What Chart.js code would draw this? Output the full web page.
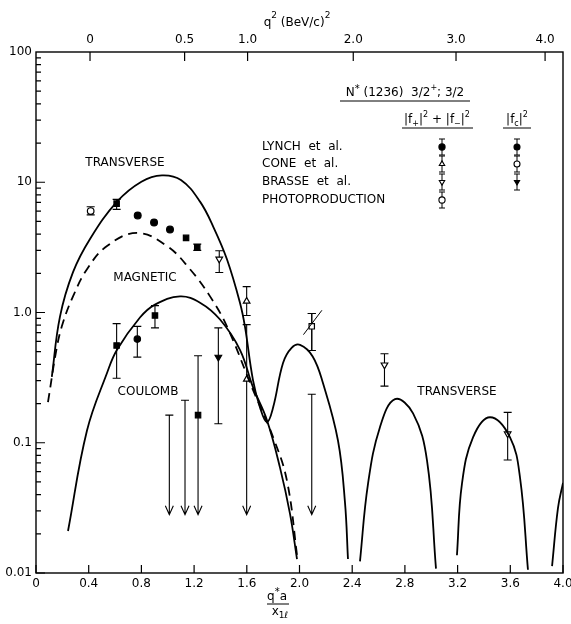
<!DOCTYPE html>
<html><head><meta charset="utf-8">
<script src="https://cdn.jsdelivr.net/npm/chart.js@4.4.0/dist/chart.umd.min.js"></script>
<style>html,body{margin:0;padding:0;background:#fff;} canvas{display:block}</style>
</head><body>
<canvas id="c" width="571" height="624"></canvas>
<script>
// ---------- axis data ----------
const xTickValues = [0,0.4,0.8,1.2,1.6,2.0,2.4,2.8,3.2,3.6,4.0];
const xTickLabels = ['0','0.4','0.8','1.2','1.6','2.0','2.4','2.8','3.2','3.6','4.0'];
const yTickValues = [0.01,0.1,1,10,100];
const yTickLabels = ['0.01','0.1','1.0','10','100'];
const q2TickPositions = [0.41,1.128,1.606,2.408,3.188,3.864];
const q2TickLabels = ['0','0.5','1.0','2.0','3.0','4.0'];

// ---------- theory curves [x, y] ----------
const transverseMain = [[0.12,0.32],[0.182,0.93],[0.281,2.04],[0.41,3.67],[0.615,7.1],[0.80,10.1],[0.956,11.3],[1.10,10.4],[1.245,7.1],[1.35,4.45],[1.45,2.55],[1.548,1.19],[1.586,0.78],[1.647,0.303],[1.70,0.187],[1.753,0.144],[1.80,0.187],[1.875,0.41],[1.94,0.536],[2.004,0.565],[2.10,0.46],[2.178,0.287],[2.292,0.104],[2.345,0.035],[2.368,0.0128]];
const transverseLobe2 = [[2.459,0.0123],[2.52,0.0484],[2.61,0.131],[2.725,0.216],[2.862,0.168],[2.968,0.073],[3.036,0.0108]];
const transverseLobe3 = [[3.195,0.0137],[3.233,0.0484],[3.317,0.11],[3.446,0.157],[3.598,0.11],[3.674,0.0538],[3.734,0.0106]];
const transverseLobe4 = [[3.917,0.0113],[3.962,0.0316],[4.0,0.0492]];
const magneticCurve = [[0.091,0.205],[0.159,0.546],[0.205,0.837],[0.281,1.33],[0.387,2.15],[0.539,3.24],[0.767,4.08],[0.994,3.24],[1.169,2.15],[1.321,1.33],[1.45,0.78],[1.647,0.254],[1.80,0.11],[1.905,0.051],[1.985,0.0128]];
const coulombCurve = [[0.243,0.021],[0.387,0.124],[0.539,0.343],[0.615,0.517],[0.789,0.915],[0.903,1.15],[1.093,1.33],[1.245,1.19],[1.397,0.883],[1.548,0.517],[1.647,0.267],[1.753,0.149],[1.852,0.0644],[1.928,0.0284],[1.981,0.0128]];

// ---------- measurements [x, y, low, high] ----------
const photoOpenCircle = [[0.415,6.01,5.62,6.49]];
const filledSquaresT = [[0.612,6.85,6.19,7.39],[1.139,3.74,null,null],[1.224,3.17,3.0,3.35]];
const lynchCirclesT = [[0.772,5.56,null,null],[0.896,4.91,null,null],[1.017,4.33,null,null]];
const brasseOpenDownT = [[1.391,2.57,2.03,2.98],[2.645,0.396,0.272,0.482],[3.58,0.117,0.0738,0.171]];
const coneOpenUpT = [[1.599,1.22,0.948,1.58]];
const coneBoxT = [[2.093,0.783,0.511,0.982]];
const coneSlantBar = [[2.03,0.676],[2.17,1.04]];
const filledSquaresC = [[0.612,0.558,0.313,0.822],[0.903,0.948,0.762,1.13],[1.23,0.163,null,null]];
const lynchCirclesC = [[0.769,0.625,0.454,0.783]];
const brasseFilledDownC = [[1.384,0.454,0.14,0.762]];
const coneOpenUpC = [[1.599,0.307,null,null]];
const coulombUpperLimits = [[1.012,0.163],[1.131,0.212],[1.23,0.465],[1.599,0.807],[2.093,0.236]];
const arrowTip = 0.028;

const FONT = "'DejaVu Sans', sans-serif";
const toXY = a => a.map(p => ({x:p[0], y:p[1]}));
const toPts = a => a.map(p => ({x:p[0], y:p[1], lo:p[2], hi:p[3]}));

function curveDs(data, dashed){
  return {data: toXY(data), borderColor:'#000', borderWidth:1.8, pointRadius:0,
    borderDash: dashed ? [9,6] : [], tension:0.4, fill:false, showLine:true};
}
function ptDs(data, style, filled, rot, r){
  return {data: toPts(data), showLine:false, pointStyle:style, pointRadius:r, pointRotation:rot||0,
    pointBackgroundColor: filled ? '#000' : '#fff', pointBorderColor:'#000', pointBorderWidth:1.2,
    errorBars:true};
}

const datasets = [
  curveDs(transverseMain,false), curveDs(transverseLobe2,false), curveDs(transverseLobe3,false),
  curveDs(transverseLobe4,false), curveDs(magneticCurve,true), curveDs(coulombCurve,false),
  {data: toXY(coneSlantBar), borderColor:'#000', borderWidth:1, pointRadius:0, showLine:true},
  ptDs(photoOpenCircle,'circle',false,0,3.3),
  ptDs(filledSquaresT,'rect',true,0,3.8),
  ptDs(lynchCirclesT,'circle',true,0,3.4),
  ptDs(brasseOpenDownT,'triangle',false,180,3.8),
  ptDs(coneOpenUpT,'triangle',false,0,3.8),
  ptDs(coneBoxT,'rect',false,0,3.8),
  ptDs(coneBoxT,'crossRot',false,0,3.0),
  ptDs(filledSquaresC,'rect',true,0,3.8),
  ptDs(lynchCirclesC,'circle',true,0,3.2),
  ptDs(brasseFilledDownC,'triangle',true,180,3.8),
  ptDs(coneOpenUpC,'triangle',false,0,3.6)
];

function rich(ctx, parts, x, y, align){
  let w = 0;
  parts.forEach(p => { ctx.font = p[1]+'px '+FONT; w += ctx.measureText(p[0]).width; });
  let cx = align === 'center' ? x - w/2 : x;
  parts.forEach(p => { ctx.font = p[1]+'px '+FONT; ctx.fillText(p[0], cx, y + p[2]); cx += ctx.measureText(p[0]).width; });
  return w;
}
function sym(ctx, type, filled, x, y, r){
  ctx.beginPath();
  if (type === 'circle') ctx.arc(x, y, r, 0, Math.PI*2);
  else if (type === 'up'){ ctx.moveTo(x, y-r); ctx.lineTo(x+r*0.87, y+r*0.5); ctx.lineTo(x-r*0.87, y+r*0.5); ctx.closePath(); }
  else if (type === 'down'){ ctx.moveTo(x, y+r); ctx.lineTo(x+r*0.87, y-r*0.5); ctx.lineTo(x-r*0.87, y-r*0.5); ctx.closePath(); }
  ctx.fillStyle = filled ? '#000' : '#fff';
  ctx.fill(); ctx.lineWidth = 1.1; ctx.strokeStyle = '#000'; ctx.stroke();
}
function vbar(ctx, x, y1, y2, cap){
  ctx.beginPath();
  ctx.moveTo(x, y1); ctx.lineTo(x, y2);
  ctx.moveTo(x-cap, y1); ctx.lineTo(x+cap, y1);
  ctx.moveTo(x-cap, y2); ctx.lineTo(x+cap, y2);
  ctx.stroke();
}

const deco = {
  id:'deco',
  beforeDatasetsDraw(chart){
    const c = chart.ctx, xs = chart.scales.x, ys = chart.scales.y;
    c.save(); c.strokeStyle = '#000'; c.lineWidth = 1.1;
    chart.data.datasets.forEach(ds => {
      if (!ds.errorBars) return;
      ds.data.forEach(p => {
        if (p.lo == null || p.hi == null) return;
        vbar(c, xs.getPixelForValue(p.x), ys.getPixelForValue(p.lo), ys.getPixelForValue(p.hi), 4);
      });
    });
    coulombUpperLimits.forEach(p => {
      const px = xs.getPixelForValue(p[0]), pt = ys.getPixelForValue(p[1]), pb = ys.getPixelForValue(arrowTip);
      c.beginPath();
      c.moveTo(px-4, pt); c.lineTo(px+4, pt);
      c.moveTo(px, pt); c.lineTo(px, pb);
      c.moveTo(px-4, pb-9); c.lineTo(px, pb); c.lineTo(px+4, pb-9);
      c.stroke();
    });
    c.restore();
  },
  afterDraw(chart){
    const c = chart.ctx, a = chart.chartArea, xs = chart.scales.x, ys = chart.scales.y;
    c.save();
    c.strokeStyle = '#000'; c.fillStyle = '#000';
    c.lineWidth = 1.4;
    c.strokeRect(a.left, a.top, a.right - a.left, a.bottom - a.top);
    c.lineWidth = 1.2;
    c.beginPath();
    xTickValues.forEach(v => { const px = xs.getPixelForValue(v); c.moveTo(px, a.bottom); c.lineTo(px, a.bottom - 8); });
    q2TickPositions.forEach(v => { const px = xs.getPixelForValue(v); c.moveTo(px, a.top); c.lineTo(px, a.top + 9); });
    for (let d = -2; d <= 1; d++){
      for (let m = 1; m <= 9; m++){
        const py = ys.getPixelForValue(m * Math.pow(10, d));
        c.moveTo(a.left, py); c.lineTo(a.left + (m === 1 ? 9 : 5), py);
      }
    }
    c.stroke();

    // axis titles
    c.textBaseline = 'alphabetic';
    rich(c, [['q',12,0],['2',9,-8],[' (BeV/c)',12,0],['2',9,-8]], 297, 26, 'center');
    rich(c, [['q',12,0],['*',10,-5],['a',12,0]], 277, 600, 'center');
    c.lineWidth = 1; c.beginPath(); c.moveTo(267, 604); c.lineTo(289, 604); c.stroke();
    rich(c, [['x',12,0],['1ℓ',9,3]], 280, 615, 'center');

    // curve labels
    c.font = '12px ' + FONT; c.textAlign = 'center'; c.textBaseline = 'middle';
    c.fillText('TRANSVERSE', 125, 163);
    c.fillText('MAGNETIC', 145, 278);
    c.fillText('COULOMB', 148, 392);
    c.fillText('TRANSVERSE', 457, 392);

    // legend
    c.textAlign = 'left'; c.textBaseline = 'alphabetic';
    rich(c, [['N',12,0],['*',10,-4],[' (1236)  3/2',12,0],['+',8,-6],['; 3/2',12,0]], 405, 96, 'center');
    c.lineWidth = 1; c.beginPath();
    c.moveTo(340, 101); c.lineTo(470, 101);
    c.moveTo(402, 128); c.lineTo(473, 128);
    c.moveTo(503, 128); c.lineTo(531, 128);
    c.stroke();
    rich(c, [['|f',12,0],['+',8,3],['|',12,0],['2',8,-6],[' + |f',12,0],['−',8,3],['|',12,0],['2',8,-6]], 437, 123, 'center');
    rich(c, [['|f',12,0],['c',8,3],['|',12,0],['2',8,-6]], 517, 123, 'center');
    c.font = '12px ' + FONT; c.textBaseline = 'middle';
    const rows = [147, 164, 182, 200];
    ['LYNCH  et  al.','CONE  et  al.','BRASSE  et  al.','PHOTOPRODUCTION'].forEach((t,i) => c.fillText(t, 262, rows[i]));
    const col1 = [['circle',true],['up',false],['down',false],['circle',false]];
    col1.forEach((s,i) => { c.lineWidth = 1; vbar(c, 442, rows[i]-8, rows[i]+8, 3); sym(c, s[0], s[1], 442, rows[i], 3.1); });
    const col2 = [['circle',true],['circle',false],['down',true]];
    col2.forEach((s,i) => { c.lineWidth = 1; vbar(c, 517, rows[i]-8, rows[i]+8, 3); sym(c, s[0], s[1], 517, rows[i], 3.0); });
    c.restore();
  }
};

new Chart(document.getElementById('c'), {
  type:'line',
  data:{datasets},
  options:{
    responsive:false, animation:false, events:[],
    layout:{padding:{left:0, right:8, top:0, bottom:0}},
    plugins:{legend:{display:false}, tooltip:{enabled:false}},
    scales:{
      x:{type:'linear', position:'bottom', min:0, max:4,
        grid:{display:false, drawTicks:false}, border:{display:false},
        ticks:{font:{family:FONT,size:12}, color:'#000', padding:4, maxRotation:0, autoSkip:false,
          callback:(v,i) => xTickLabels[i]},
        afterBuildTicks: s => { s.ticks = xTickValues.map(v => ({value:v})); },
        afterFit: s => { s.height = 624 - 573; s.paddingLeft = 0; s.paddingRight = 0; }
      },
      xq:{type:'linear', axis:'x', position:'top', min:0, max:4,
        grid:{display:false, drawTicks:false}, border:{display:false},
        ticks:{font:{family:FONT,size:12}, color:'#000', padding:5, maxRotation:0, autoSkip:false,
          callback:(v,i) => q2TickLabels[i]},
        afterBuildTicks: s => { s.ticks = q2TickPositions.map(v => ({value:v})); },
        afterFit: s => { s.height = 52; s.paddingLeft = 0; s.paddingRight = 0; }
      },
      y:{type:'logarithmic', position:'left', min:0.01, max:100,
        grid:{display:false, drawTicks:false}, border:{display:false},
        ticks:{font:{family:FONT,size:12}, color:'#000', padding:4, autoSkip:false,
          callback:(v,i) => yTickLabels[i]},
        afterBuildTicks: s => { s.ticks = yTickValues.map(v => ({value:v})); },
        afterFit: s => { s.width = 36; s.paddingTop = 0; s.paddingBottom = 0; }
      }
    }
  },
  plugins:[deco]
});
</script>
</body></html>
